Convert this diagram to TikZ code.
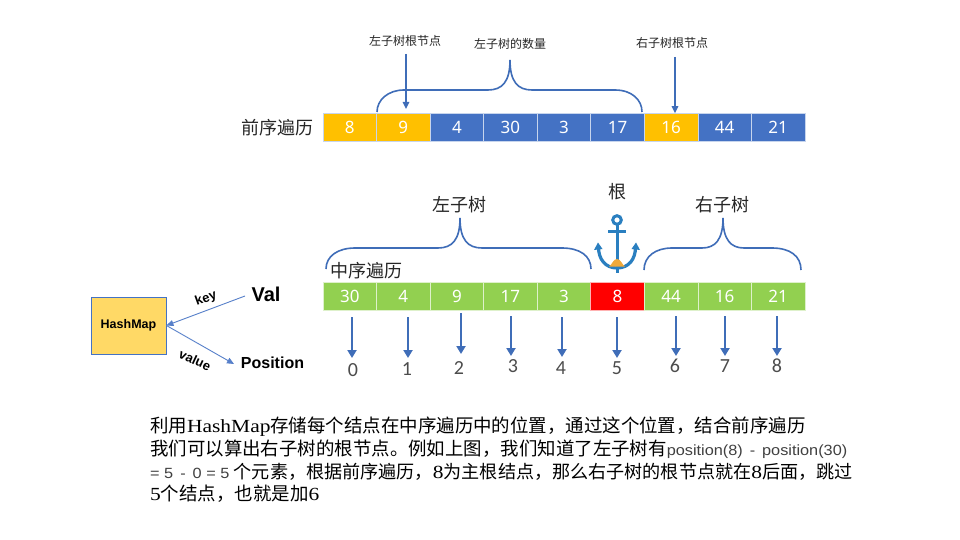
\documentclass[tikz,border=0pt]{standalone}
\usepackage{fontspec}
\setmainfont{Liberation Serif}
\newfontfamily\cjk{Noto Sans CJK SC}
\newfontfamily\num{Noto Sans}
\newfontfamily\lightnum{Carlito}
\newfontfamily\arl{Liberation Sans}
\newfontfamily\slab[FakeStretch=1.16]{Liberation Serif}
\newfontfamily\thinsans[FakeStretch=1.1]{Liberation Sans}
\definecolor{cellblue}{HTML}{4472C4}
\definecolor{cellgold}{HTML}{FFC000}
\definecolor{cellgreen}{HTML}{92D050}
\definecolor{braceblue}{HTML}{3F6DB8}
\definecolor{anchorblue}{HTML}{2A7FC0}
\definecolor{anchorgold}{HTML}{F0A93A}
\newcommand{\fs}[1]{\fontsize{#1}{#1}\selectfont}
\usetikzlibrary{arrows.meta}
\tikzset{
  x=1pt,y=-1pt,
  cell/.style={draw=white!70!cellblue,line width=0.6pt,minimum width=53.6pt,minimum height=27.5pt,inner sep=0,text=white,font=\num\fs{17}},
  bluecell/.style={cell,fill=cellblue},
  goldcell/.style={cell,fill=cellgold},
  greencell/.style={cell,fill=cellgreen,draw=white!70!cellgreen},
  redcell/.style={cell,fill=red,draw=white!70!red},
  curly/.style={draw=braceblue,line width=1.6pt},
  thick arrow/.style={draw=braceblue,line width=2.5pt,-{Triangle[width=9pt,length=8pt]}},
  thin arrow/.style={draw=braceblue,line width=1.5pt,-{Triangle[width=6.5pt,length=7pt]}},
  hair arrow/.style={draw=cellblue!90,line width=0.9pt,-{Triangle[width=6pt,length=7pt]}},
  cjklabel/.style={inner sep=0,font=\cjk\fs{18},text=black!85},
  smalllabel/.style={inner sep=0,font=\cjk\fs{12},text=black!85},
  digit/.style={inner sep=0,font=\lightnum\fs{20},text=black!70},
  bodyline/.style={anchor=west,inner sep=0,text=black,font=\cjk\fs{18.45}},
}
\newcommand{\lat}[1]{{\slab\fs{18.5}#1}}
\newcommand{\sml}[1]{{\thinsans\fs{14.8}\color{black!75}#1}}
\begin{document}
\begin{tikzpicture}
\useasboundingbox (0,0) rectangle (960,540);
\fill[white] (0,0) rectangle (960,540);
% top row
\node[cjklabel] (pre) at (277,128) {前序遍历};
\foreach \n/\v/\s [count=\i from 0] in {t0/8/goldcell,t1/9/goldcell,t2/4/bluecell,t3/30/bluecell,t4/3/bluecell,t5/17/bluecell,t6/16/goldcell,t7/44/bluecell,t8/21/bluecell}
  \node[\s] (\n) at ({349.8+53.55*\i},127.2) {\v};
% top brace
\draw[curly] (377,112) .. controls (377,100) and (388,90) .. (404,90) -- (488,90) .. controls (502,90) and (510,82) .. (510,60) .. controls (510,82) and (518,90) .. (532,90) -- (615,90) .. controls (632,90) and (642,100) .. (642,112);
\node[smalllabel] (lroot) at (405,41) {左子树根节点};
\node[smalllabel] (lcount) at (510,44) {左子树的数量};
\node[smalllabel] (rroot) at (672,43) {右子树根节点};
\coordinate (a1) at (406,54);
\coordinate (a2) at (675,57);
\draw[thin arrow] (a1) -- (406,109);
\draw[thin arrow] (a2) -- (t6.north -| a2);
% bottom row
\foreach \n/\v/\s [count=\i from 0] in {b0/30/greencell,b1/4/greencell,b2/9/greencell,b3/17/greencell,b4/3/greencell,b5/8/redcell,b6/44/greencell,b7/16/greencell,b8/21/greencell}
  \node[\s] (\n) at ({349.8+53.55*\i},296.2) {\v};
\node[cjklabel] (mid) at (366.5,271) {中序遍历};
\node[cjklabel] (ltree) at (459,205) {左子树};
\node[cjklabel] (root) at (617,192) {根};
\node[cjklabel] (rtree) at (722,205) {右子树};
\draw[curly] (326,269) .. controls (326,256) and (338,248) .. (355,248) -- (438,248) .. controls (452,248) and (460,240) .. (460,218) .. controls (460,240) and (468,248) .. (482,248) -- (562,248) .. controls (580,248) and (591,256) .. (591,269);
\draw[curly] (644,270) .. controls (644,256) and (656,248) .. (672,248) -- (702,248) .. controls (715,248) and (723,240) .. (723,218) .. controls (723,240) and (731,248) .. (744,248) -- (772,248) .. controls (790,248) and (801,256) .. (801,270);
% anchor
\draw[anchorblue,line width=3pt] (617,220) circle (4.3);
\draw[anchorblue,line width=3pt] (617,224) -- (617,273);
\draw[anchorblue,line width=3pt] (608,231.5) -- (626,231.5);
\draw[anchorblue,line width=3.2pt] (598.5,247) .. controls (598.5,259) and (605,268) .. (617,268) .. controls (629,268) and (635.5,259) .. (635.5,247);
\fill[anchorgold] (609,266.5) .. controls (612,265) and (613,259) .. (617,259) .. controls (621,259) and (622,265) .. (625,266.5) -- cycle;
\fill[anchorblue] (594,250) -- (598,242.5) -- (602.5,249) -- cycle;
\fill[anchorblue] (640,250) -- (636,242.5) -- (631.5,249) -- cycle;
% index arrows and digits
\foreach \n/\d/\xa/\ya/\yb/\xd/\yd in {d0/0/352/317/358/353/370,d1/1/408/317/358/407/369,d2/2/461/313/354/459/368,d3/3/511/316/356/513/366,d4/4/562/317/357/561/368,d5/5/617/317/358/617/368,d6/6/676/316/356/675/366,d7/7/725/316/356/725/366,d8/8/777/316/356/777/366}{
  \node[digit] (\n) at (\xd,\yd) {\d};
  \coordinate (\n s) at (\xa,\ya);
  \coordinate (\n e) at (\xa,\yb);
  \draw[thick arrow] (\n s) -- (\n e);
}
% hashmap
\node[draw=cellblue,line width=0.9pt,fill=cellgold!60,minimum width=75pt,minimum height=57pt,inner sep=0,font=\arl\bfseries\fs{12.5}] (hm) at (128.5,325.5) {HashMap};
\node[inner sep=0,font=\arl\bfseries\fs{20}] (val) at (266,294) {Val};
\node[inner sep=0,font=\arl\bfseries\fs{16}] (posn) at (272.5,362.5) {Position};
\node[inner sep=0,rotate=20,font=\arl\bfseries\fs{13}] (key) at (206,299) {key};
\node[inner sep=0,rotate=-25,font=\arl\bfseries\fs{13}] (value) at (195,360) {value};
\coordinate (vs) at (245,296);
\coordinate (pe) at (234,364);
\draw[hair arrow] (vs) -- (hm.east);
\draw[hair arrow] (hm.east) -- (pe);
% body text
\node[bodyline] (l1) at (150,427) {利用\lat{HashMap}存储每个结点在中序遍历中的位置，通过这个位置，结合前序遍历};
\node[bodyline] (l2) at (150,449) {我们可以算出右子树的根节点。例如上图，我们知道了左子树有\sml{position(8) \,-\, position(30)}};
\node[bodyline] (l3) at (150,472) {\sml{= 5 \,-\, 0 = 5 }\fs{18.1}个元素，根据前序遍历，\lat{8}为主根结点，那么右子树的根节点就在\lat{8}后面，跳过};
\node[bodyline] (l4) at (150,494) {\lat{5}个结点，也就是加\lat{6}};
\end{tikzpicture}
\end{document}
